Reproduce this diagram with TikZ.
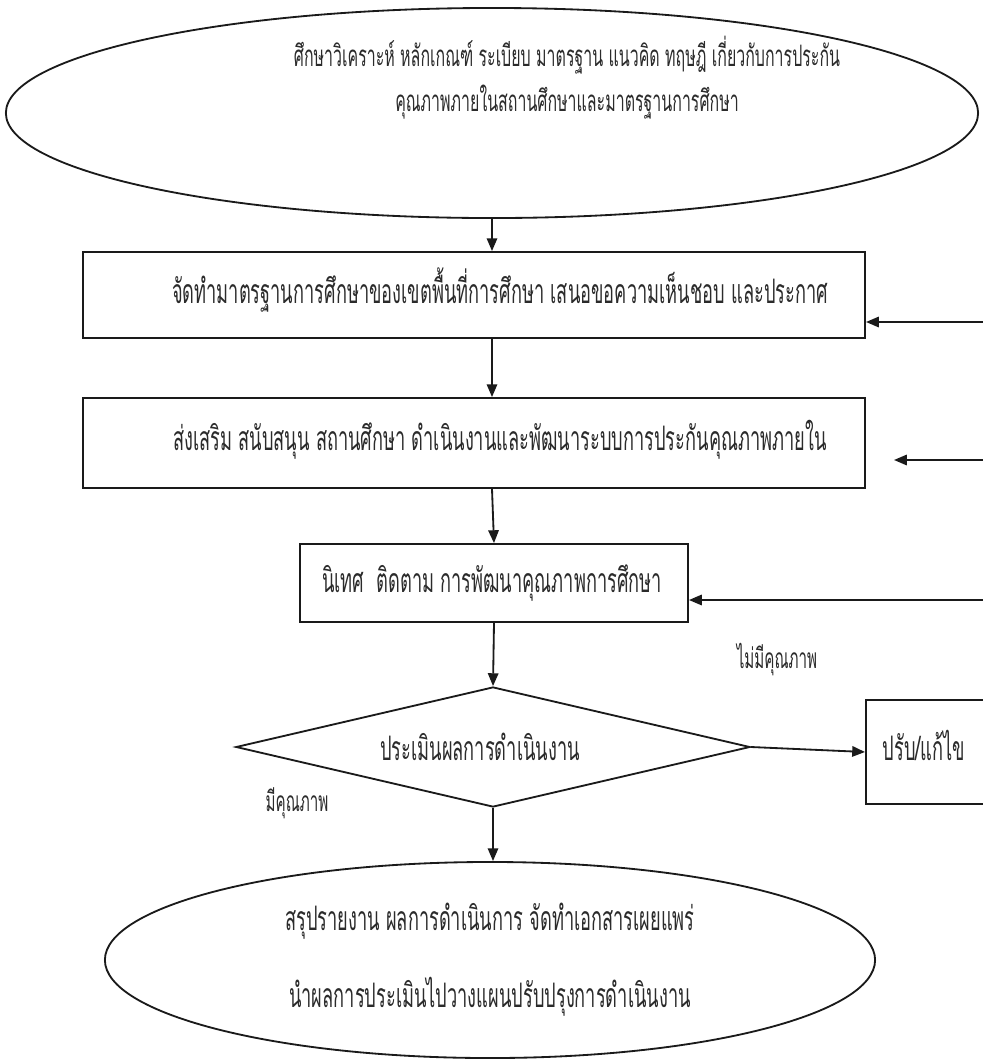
\documentclass[tikz,border=0pt]{standalone}
\usepackage{fontspec}
\usepackage{tikz}
\usetikzlibrary{arrows.meta, positioning, shapes.geometric}
\newfontfamily\thaifont[Script=Thai, FakeStretch=0.54]{Loma}
\definecolor{kline}{HTML}{1A1A1A}
\definecolor{ktext}{HTML}{2B2B2B}

\begin{document}
\begin{tikzpicture}[x=0.025cm, y=-0.025cm,
  txt/.style={font=\thaifont\fontsize{24}{26}\selectfont, text=ktext, align=center},
  note/.style={font=\thaifont\fontsize{20}{22}\selectfont, text=ktext},
  oval/.style={ellipse, draw=kline, line width=1.3pt, inner sep=0pt},
  stepbox/.style={rectangle, draw=kline, line width=1.3pt, inner sep=0pt},
  decision/.style={diamond, draw=kline, line width=1.3pt, inner sep=0pt},
  arr/.style={draw=kline, line width=1.3pt, -{Triangle[length=0.32cm, width=0.26cm]}}]
\path[use as bounding box, clip] (0,0) rectangle (983,1061);
\fill[white] (0,0) rectangle (983,1061);
% shapes
\node[oval, minimum width=24.3cm, minimum height=5.25cm] (study) at (492,113) {};
\node[stepbox, minimum width=19.55cm, minimum height=2.15cm] (standard) at (474,295) {};
\node[stepbox, minimum width=19.55cm, minimum height=2.25cm] (support) at (474,443) {};
\node[stepbox, minimum width=9.7cm, minimum height=1.95cm] (monitor) at (494,583) {};
\node[decision, minimum width=12.85cm, minimum height=3.0cm] (eval) at (493,747) {};
\node[stepbox, minimum width=5.4cm, minimum height=2.6cm, anchor=west] (fix) at (865,752) {};
\node[oval, minimum width=19.25cm, minimum height=4.9cm] (summary) at (490,960) {};
% texts
\node[txt, font=\thaifont\fontsize{21}{26}\selectfont] (studytxt) at (567,78)
  {ศึกษาวิเคราะห์ หลักเกณฑ์ ระเบียบ มาตรฐาน แนวคิด ทฤษฎี เกี่ยวกับการประกัน\\[6pt]
   คุณภาพภายในสถานศึกษาและมาตรฐานการศึกษา};
\node[txt] (standardtxt) at (500,290) {จัดทำมาตรฐานการศึกษาของเขตพื้นที่การศึกษา เสนอขอความเห็นชอบ และประกาศ};
\node[txt] (supporttxt) at (500,440) {ส่งเสริม สนับสนุน สถานศึกษา ดำเนินงานและพัฒนาระบบการประกันคุณภาพภายใน};
\node[txt] (monitortxt) at (492,583) {นิเทศ~ ติดตาม การพัฒนาคุณภาพการศึกษา};
\node[txt] (evaltxt) at (480,747) {ประเมินผลการดำเนินงาน};
\node[txt] (fixtxt) at (924,745) {ปรับ/แก้ไข};
\node[txt] (summarytxt) at (490,960)
  {สรุปรายงาน ผลการดำเนินการ จัดทำเอกสารเผยแพร่\\[26pt]
   นำผลการประเมินไปวางแผนปรับปรุงการดำเนินงาน};
\node[note] (nopass) at (777,660) {ไม่มีคุณภาพ};
\node[note] (pass) at (297,803) {มีคุณภาพ};
% main flow
\draw[arr] (study.south) -- (study.south |- standard.north);
\draw[arr] (study.south |- standard.south) -- (study.south |- support.north);
\draw[arr] (study.south |- support.south) -- (monitor.north);
\draw[arr] (monitor.south) -- (eval.north);
\draw[arr] (eval.south) -- (eval.south |- summary.north);
\draw[arr] (eval.east) -- (fix.west);
% feedback from the right
\coordinate (back1) at (983,322);
\coordinate (back2) at (983,460);
\coordinate (back3) at (983,600);
\draw[arr] (back1) -- (back1 -| standard.east);
\draw[arr] (back2) -- ([xshift=0.7cm]back2 -| support.east);
\draw[arr] (back3) -- (back3 -| monitor.east);
\end{tikzpicture}
\end{document}
